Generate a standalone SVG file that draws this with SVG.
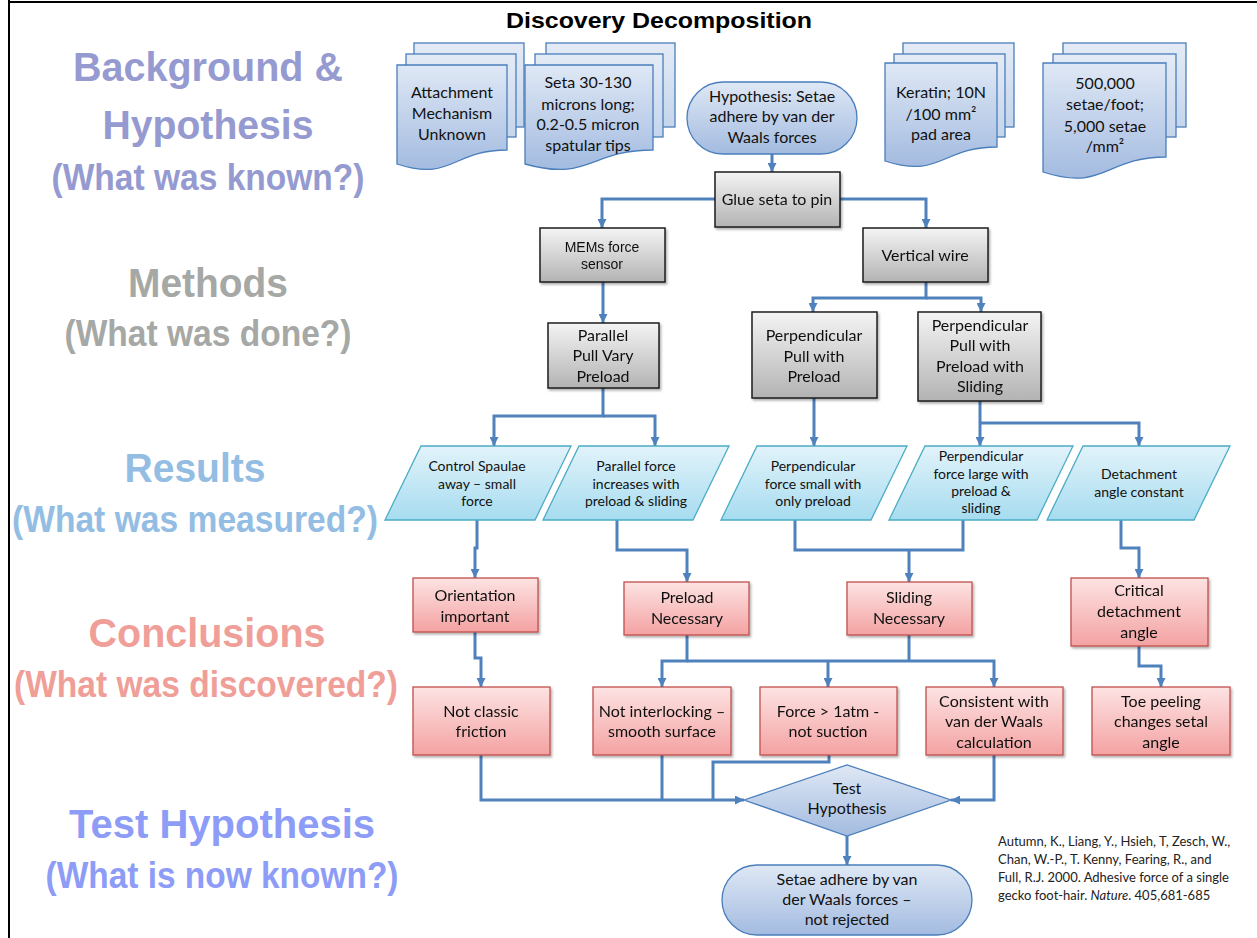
<svg xmlns="http://www.w3.org/2000/svg" width="1257" height="938" viewBox="0 0 1257 938">
<defs>
<linearGradient id="gBlue" x1="0" y1="0" x2="0" y2="1"><stop offset="0" stop-color="#dfe8f5"/><stop offset="1" stop-color="#a3bbe0"/></linearGradient>
<linearGradient id="gBack" x1="0" y1="0" x2="0" y2="1"><stop offset="0" stop-color="#e4ebf6"/><stop offset="1" stop-color="#c5d5ec"/></linearGradient>
<linearGradient id="gGray" x1="0" y1="0" x2="0" y2="1"><stop offset="0" stop-color="#f4f4f4"/><stop offset="1" stop-color="#b3b3b3"/></linearGradient>
<linearGradient id="gCyan" x1="0" y1="0" x2="0" y2="1"><stop offset="0" stop-color="#e2f3fa"/><stop offset="1" stop-color="#a6dcf0"/></linearGradient>
<linearGradient id="gPink" x1="0" y1="0" x2="0" y2="1"><stop offset="0" stop-color="#fde3e3"/><stop offset="1" stop-color="#f4a2a2"/></linearGradient>
<filter id="sh" x="-10%" y="-10%" width="130%" height="130%"><feDropShadow dx="1.5" dy="2" stdDeviation="1.2" flood-color="#000" flood-opacity="0.3"/></filter>
<marker id="ar" viewBox="0 0 10 10" refX="10" refY="5" markerWidth="9" markerHeight="9" markerUnits="userSpaceOnUse" orient="auto"><path d="M0,0 L10,5 L0,10 Z" fill="#4f81bd"/></marker>
<style>
.back{fill:url(#gBack);stroke:#4a7ebb;stroke-width:1.3}
.doc{fill:url(#gBlue);stroke:#4a7ebb;stroke-width:1.3}
.gray{fill:url(#gGray);stroke:#1e1e1e;stroke-width:1.5}
.res{fill:url(#gCyan);stroke:#4bacc6;stroke-width:1.3}
.con{fill:url(#gPink);stroke:#c0504d;stroke-width:1.3}
.t{font-family:Lato,"Liberation Sans",sans-serif;font-size:16px;text-anchor:middle;fill:#111}
.ts{font-size:14px}
.ar{font-family:"Liberation Sans",Arial,sans-serif;font-size:14px}
.h{font-family:"Liberation Sans",Arial,sans-serif;font-weight:bold;text-anchor:middle}
.conn path{fill:none;stroke:#4f81bd;stroke-width:3}
.cite{font-family:Lato,"Liberation Sans",sans-serif;font-size:13px;fill:#222}
</style>
</defs>
<rect width="1257" height="938" fill="#fff"/>
<path d="M9,2 H1257 M9,0 V938" stroke="#000" stroke-width="2" fill="none"/>
<text x="659" y="28" class="h" font-size="22" textLength="306" lengthAdjust="spacingAndGlyphs" fill="#000">Discovery Decomposition</text>

<g id="labels">
<text x="208" y="81" class="h" font-size="40" fill="#959ad0" textLength="270" lengthAdjust="spacingAndGlyphs">Background &amp;</text>
<text x="208" y="139" class="h" font-size="40" fill="#959ad0" textLength="211" lengthAdjust="spacingAndGlyphs">Hypothesis</text>
<text x="208" y="190" class="h" font-size="36" fill="#959ad0" textLength="313" lengthAdjust="spacingAndGlyphs">(What was known?)</text>
<text x="208" y="297" class="h" font-size="40" fill="#a5a8a5" textLength="160" lengthAdjust="spacingAndGlyphs">Methods</text>
<text x="208" y="346" class="h" font-size="36" fill="#a5a8a5" textLength="287" lengthAdjust="spacingAndGlyphs">(What was done?)</text>
<text x="195" y="482" class="h" font-size="40" fill="#93bde3" textLength="141" lengthAdjust="spacingAndGlyphs">Results</text>
<text x="195" y="532" class="h" font-size="36" fill="#93bde3" textLength="366" lengthAdjust="spacingAndGlyphs">(What was measured?)</text>
<text x="207" y="647" class="h" font-size="40" fill="#f09e98" textLength="237" lengthAdjust="spacingAndGlyphs">Conclusions</text>
<text x="206" y="697" class="h" font-size="36" fill="#f09e98" textLength="384" lengthAdjust="spacingAndGlyphs">(What was discovered?)</text>
<text x="222" y="838" class="h" font-size="40" fill="#8d9cf6" textLength="306" lengthAdjust="spacingAndGlyphs">Test Hypothesis</text>
<text x="222" y="888" class="h" font-size="36" fill="#8d9cf6" textLength="353" lengthAdjust="spacingAndGlyphs">(What is now known?)</text>
</g>

<g class="conn">
<path d="M772,154 V172" marker-end="url(#ar)"/>
<path d="M715,199 H602 V228" marker-end="url(#ar)"/>
<path d="M840,199 H926 V228" marker-end="url(#ar)"/>
<path d="M603,282 V323" marker-end="url(#ar)"/>
<path d="M926,282 V298 H813 V312" marker-end="url(#ar)"/>
<path d="M926,298 H981 V312" marker-end="url(#ar)"/>
<path d="M603,388 V416 H494 V446" marker-end="url(#ar)"/>
<path d="M603,416 H655 V446" marker-end="url(#ar)"/>
<path d="M814,398 V446" marker-end="url(#ar)"/>
<path d="M980,401 V446" marker-end="url(#ar)"/>
<path d="M980,423 H1139 V446" marker-end="url(#ar)"/>
<path d="M477,520 V548 H475 V578" marker-end="url(#ar)"/>
<path d="M617,520 V550 H687 V582" marker-end="url(#ar)"/>
<path d="M795,520 V550 H963 V520"/>
<path d="M909,550 V582" marker-end="url(#ar)"/>
<path d="M1121,520 V548 H1139 V578" marker-end="url(#ar)"/>
<path d="M475,632 V658 H481 V687" marker-end="url(#ar)"/>
<path d="M687,635 V661 H662 V687" marker-end="url(#ar)"/>
<path d="M687,661 H994 V687" marker-end="url(#ar)"/>
<path d="M828,661 V687" marker-end="url(#ar)"/>
<path d="M909,635 V661"/>
<path d="M1139,646 V666 H1161 V687" marker-end="url(#ar)"/>
<path d="M481,755 V800 H744" marker-end="url(#ar)"/>
<path d="M662,755 V800"/>
<path d="M829,755 V762 H713 V800"/>
<path d="M994,755 V800 H951" marker-end="url(#ar)"/>
<path d="M847,836 V865" marker-end="url(#ar)"/>
</g>

<g id="doc-attachment">
<rect class="back" x="414" y="43" width="110" height="84"/>
<rect class="back" x="406" y="54" width="110" height="83"/>
<path class="doc" d="M397,65 H507 V150 C452,150 452,182 397,164 Z"/>
<text class="t"><tspan x="452" y="98">Attachment</tspan><tspan x="452" y="119">Mechanism</tspan><tspan x="452" y="140">Unknown</tspan></text>
</g>
<g id="doc-seta">
<rect class="back" x="546" y="43" width="129" height="84"/>
<rect class="back" x="535" y="54" width="128" height="83"/>
<path class="doc" d="M525,65 H653 V150 C589,150 589,182 525,164 Z"/>
<text class="t"><tspan x="588" y="88">Seta 30-130</tspan><tspan x="588" y="110">microns long;</tspan><tspan x="588" y="130">0.2-0.5 micron</tspan><tspan x="588" y="151">spatular tips</tspan></text>
</g>
<g id="hypothesis">
<rect class="doc" x="687" y="82" width="170" height="72" rx="36"/>
<text class="t"><tspan x="772" y="102">Hypothesis: Setae</tspan><tspan x="772" y="122">adhere by van der</tspan><tspan x="772" y="143">Waals forces</tspan></text>
</g>
<g id="doc-keratin">
<rect class="back" x="903" y="43" width="111" height="84"/>
<rect class="back" x="894" y="54" width="111" height="83"/>
<path class="doc" d="M885,63 H997 V147 C941,147 941,179 885,161 Z"/>
<text class="t"><tspan x="941" y="98">Keratin; 10N</tspan><tspan x="941" y="120">/100 mm²</tspan><tspan x="941" y="140">pad area</tspan></text>
</g>
<g id="doc-setae">
<rect class="back" x="1063" y="43" width="123" height="84"/>
<rect class="back" x="1053" y="54" width="123" height="83"/>
<path class="doc" d="M1043,63 H1166 V157 C1105,157 1105,192 1043,172 Z"/>
<text class="t"><tspan x="1105" y="89">500,000</tspan><tspan x="1105" y="110">setae/foot;</tspan><tspan x="1105" y="132">5,000 setae</tspan><tspan x="1105" y="152">/mm²</tspan></text>
</g>

<g id="glue" filter="url(#sh)">
<rect class="gray" x="715" y="172" width="125" height="55"/>
<text class="t" x="777" y="205">Glue seta to pin</text>
</g>
<g id="mems" filter="url(#sh)">
<rect class="gray" x="540" y="228" width="125" height="54"/>
<text class="t ar"><tspan x="602" y="252">MEMs force</tspan><tspan x="602" y="269">sensor</tspan></text>
</g>
<g id="wire" filter="url(#sh)">
<rect class="gray" x="863" y="228" width="125" height="54"/>
<text class="t" x="925" y="261">Vertical wire</text>
</g>
<g id="parallel-pull" filter="url(#sh)">
<rect class="gray" x="548" y="323" width="111" height="65"/>
<text class="t"><tspan x="603" y="341">Parallel</tspan><tspan x="603" y="361">Pull Vary</tspan><tspan x="603" y="382">Preload</tspan></text>
</g>
<g id="perp-pull" filter="url(#sh)">
<rect class="gray" x="752" y="312" width="125" height="86"/>
<text class="t"><tspan x="814" y="341">Perpendicular</tspan><tspan x="814" y="362">Pull with</tspan><tspan x="814" y="382">Preload</tspan></text>
</g>
<g id="perp-slide" filter="url(#sh)">
<rect class="gray" x="918" y="312" width="123" height="89"/>
<text class="t"><tspan x="980" y="331">Perpendicular</tspan><tspan x="980" y="351">Pull with</tspan><tspan x="980" y="372">Preload with</tspan><tspan x="980" y="392">Sliding</tspan></text>
</g>

<g id="res-control">
<path class="res" d="M421,446 H571 L535,520 H385 Z"/>
<text class="t ts"><tspan x="477" y="471">Control Spaulae</tspan><tspan x="477" y="489">away – small</tspan><tspan x="477" y="506">force</tspan></text>
</g>
<g id="res-parallel">
<path class="res" d="M579,446 H729 L693,520 H543 Z"/>
<text class="t ts"><tspan x="636" y="471">Parallel force</tspan><tspan x="636" y="489">increases with</tspan><tspan x="636" y="506">preload &amp; sliding</tspan></text>
</g>
<g id="res-perp-small">
<path class="res" d="M757,446 H907 L871,520 H721 Z"/>
<text class="t ts"><tspan x="813" y="471">Perpendicular</tspan><tspan x="813" y="489">force small with</tspan><tspan x="813" y="506">only preload</tspan></text>
</g>
<g id="res-perp-large">
<path class="res" d="M925,446 H1073 L1037,520 H889 Z"/>
<text class="t ts"><tspan x="981" y="461">Perpendicular</tspan><tspan x="981" y="479">force large with</tspan><tspan x="981" y="496">preload &amp;</tspan><tspan x="981" y="513">sliding</tspan></text>
</g>
<g id="res-detach">
<path class="res" d="M1083,446 H1230 L1194,520 H1047 Z"/>
<text class="t ts"><tspan x="1139" y="479">Detachment</tspan><tspan x="1139" y="497">angle constant</tspan></text>
</g>

<g id="con-orientation" filter="url(#sh)">
<rect class="con" x="413" y="578" width="125" height="54"/>
<text class="t"><tspan x="475" y="601">Orientation</tspan><tspan x="475" y="622">important</tspan></text>
</g>
<g id="con-preload" filter="url(#sh)">
<rect class="con" x="624" y="582" width="125" height="53"/>
<text class="t"><tspan x="687" y="603">Preload</tspan><tspan x="687" y="624">Necessary</tspan></text>
</g>
<g id="con-sliding" filter="url(#sh)">
<rect class="con" x="847" y="582" width="125" height="53"/>
<text class="t"><tspan x="909" y="603">Sliding</tspan><tspan x="909" y="624">Necessary</tspan></text>
</g>
<g id="con-critical" filter="url(#sh)">
<rect class="con" x="1071" y="578" width="137" height="68"/>
<text class="t"><tspan x="1139" y="596">Critical</tspan><tspan x="1139" y="617">detachment</tspan><tspan x="1139" y="638">angle</tspan></text>
</g>
<g id="con-friction" filter="url(#sh)">
<rect class="con" x="413" y="687" width="137" height="68"/>
<text class="t"><tspan x="481" y="717">Not classic</tspan><tspan x="481" y="737">friction</tspan></text>
</g>
<g id="con-interlock" filter="url(#sh)">
<rect class="con" x="593" y="687" width="138" height="68"/>
<text class="t"><tspan x="662" y="717">Not interlocking –</tspan><tspan x="662" y="737">smooth surface</tspan></text>
</g>
<g id="con-suction" filter="url(#sh)">
<rect class="con" x="760" y="687" width="137" height="68"/>
<text class="t"><tspan x="828" y="717">Force &gt; 1atm -</tspan><tspan x="828" y="737">not suction</tspan></text>
</g>
<g id="con-vdw" filter="url(#sh)">
<rect class="con" x="926" y="687" width="137" height="68"/>
<text class="t"><tspan x="994" y="707">Consistent with</tspan><tspan x="994" y="727">van der Waals</tspan><tspan x="994" y="748">calculation</tspan></text>
</g>
<g id="con-toe" filter="url(#sh)">
<rect class="con" x="1092" y="687" width="138" height="68"/>
<text class="t"><tspan x="1161" y="707">Toe peeling</tspan><tspan x="1161" y="727">changes setal</tspan><tspan x="1161" y="748">angle</tspan></text>
</g>

<g id="test">
<path class="doc" d="M744,800 L847,765 L951,800 L847,836 Z"/>
<text class="t"><tspan x="847" y="794">Test</tspan><tspan x="847" y="814">Hypothesis</tspan></text>
</g>
<g id="final">
<rect class="doc" x="722" y="865" width="250" height="70" rx="35"/>
<text class="t"><tspan x="847" y="885">Setae adhere by van</tspan><tspan x="847" y="905">der Waals forces –</tspan><tspan x="847" y="925">not rejected</tspan></text>
</g>

<g id="citation">
<text class="cite"><tspan x="998" y="846">Autumn, K., Liang, Y., Hsieh, T, Zesch, W.,</tspan><tspan x="998" y="864">Chan, W.-P., T. Kenny, Fearing, R., and</tspan><tspan x="998" y="882">Full, R.J. 2000. Adhesive force of a single</tspan><tspan x="998" y="900">gecko foot-hair. <tspan font-style="italic">Nature</tspan>. 405,681-685</tspan></text>
</g>
</svg>
